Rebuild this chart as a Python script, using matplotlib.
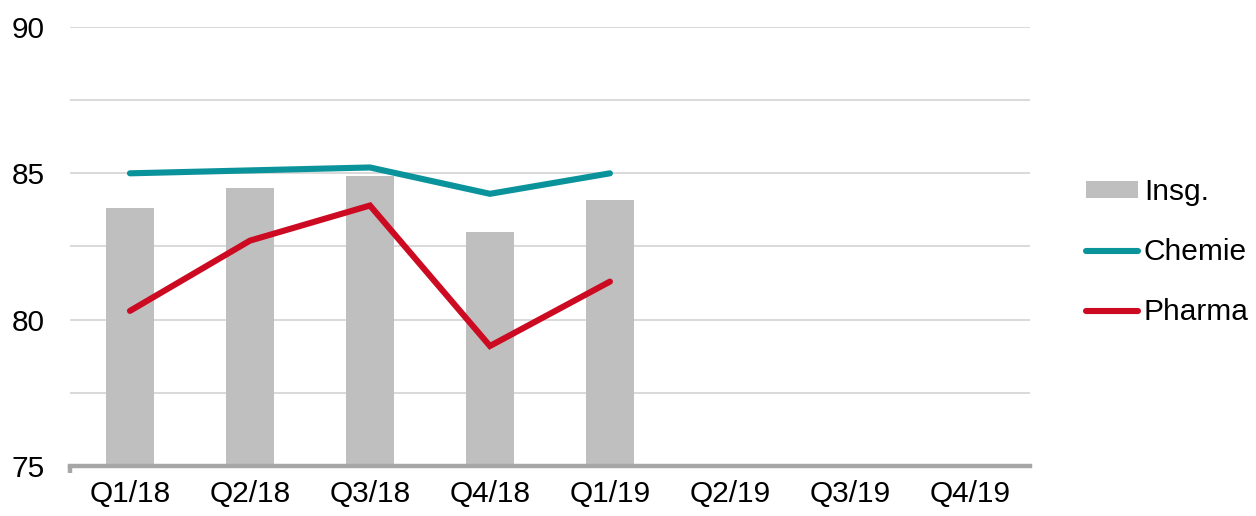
import matplotlib
matplotlib.use('Agg')
import matplotlib.pyplot as plt
import numpy as np
from matplotlib.patches import Patch
from matplotlib.lines import Line2D

plt.rcParams['font.family'] = ['Liberation Sans', 'DejaVu Sans']

categories = ["Q1/18", "Q2/18", "Q3/18", "Q4/18", "Q1/19", "Q2/19", "Q3/19", "Q4/19"]
insg = [83.8, 84.5, 84.9, 83.0, 84.1]
chemie = [85.0, 85.1, 85.2, 84.3, 85.0]
pharma = [80.3, 82.7, 83.9, 79.1, 81.3]
y_ticks = [75, 80, 85, 90]

BAR_C = "#bfbfbf"
CHEM_C = "#0a939b"
PHAR_C = "#cc0a22"
FS = 21.5
LW = 4.4

fig = plt.figure(figsize=(12.56, 5.16), dpi=100)
ax = fig.add_axes([0.0557, 0.0969, 0.7643, 0.8508])

x_all = np.arange(len(categories))
x = np.arange(len(insg))
ax.bar(x, [v - 75 for v in insg], bottom=75, width=0.4, color=BAR_C, zorder=2)
ax.plot(x, chemie, color=CHEM_C, linewidth=LW, solid_capstyle='round',
        solid_joinstyle='miter', zorder=3)
ax.plot(x, pharma, color=PHAR_C, linewidth=LW, solid_capstyle='round',
        solid_joinstyle='miter', zorder=3)

ax.set_xlim(-0.5, len(categories) - 0.5)
ax.set_ylim(75, 90)
ax.set_xticks(x_all)
ax.set_xticklabels(categories, fontsize=FS)
ax.set_yticks(y_ticks)
ax.set_yticklabels([str(t) for t in y_ticks], fontsize=FS)
for g in np.arange(77.5, 90.1, 2.5):
    ax.axhline(g, color="#d9d9d9", linewidth=1.4, zorder=1)

for s in ['top', 'right', 'left']:
    ax.spines[s].set_visible(False)
ax.spines['bottom'].set_color("#a6a6a6")
ax.spines['bottom'].set_linewidth(3.2)
ax.spines['bottom'].set_zorder(4)
ax.tick_params(axis='y', length=0, pad=18)
ax.tick_params(axis='x', length=0, pad=10)
# small tick mark at the left end of the axis
ax.plot([-0.5, -0.5], [75, 74.75], color="#a6a6a6", linewidth=3.2,
        clip_on=False, zorder=4, solid_capstyle='butt')

handles = [
    Patch(facecolor=BAR_C, edgecolor='none', label="Insg."),
    Line2D([0], [0], color=CHEM_C, linewidth=LW, solid_capstyle='round', label="Chemie"),
    Line2D([0], [0], color=PHAR_C, linewidth=LW, solid_capstyle='round', label="Pharma"),
]
leg = fig.legend(handles=handles, loc='center left', bbox_to_anchor=(0.843, 0.511),
                 frameon=False, fontsize=FS, handlelength=1.75, handletextpad=0.2,
                 labelspacing=1.07, handleheight=0.5, borderpad=0.4)

fig.savefig("out.png", dpi=100)
